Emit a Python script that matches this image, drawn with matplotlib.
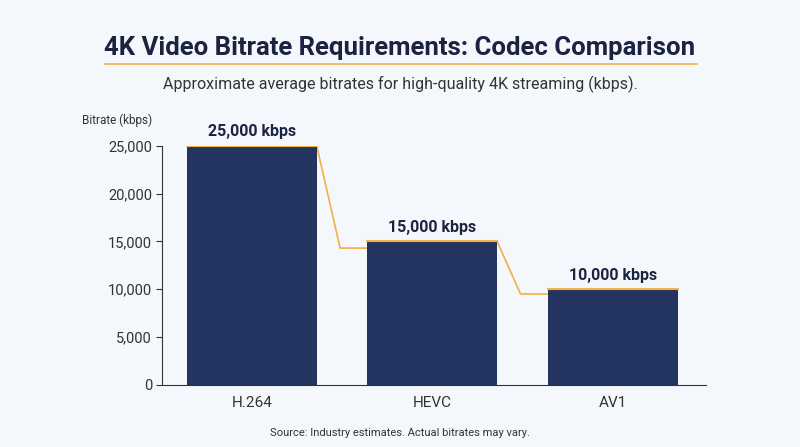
import matplotlib

matplotlib.use("Agg")
import matplotlib.pyplot as plt

CODECS = ["H.264", "HEVC", "AV1"]
BITRATES = [25000, 15000, 10000]
LABELS = ["25,000 kbps", "15,000 kbps", "10,000 kbps"]
DIP_LEVELS = [14300, 9500]  # where the orange connector settles in each gap

NAVY = "#22345f"
ORANGE = "#f2b046"
BG = "#f4f7fb"
TEXT = "#1b2340"

plt.rcParams["font.family"] = ["Roboto", "DejaVu Sans"]
fig = plt.figure(figsize=(8, 4.47), dpi=100, facecolor=BG)
ax = fig.add_axes([0.203, 0.139, 0.68, 0.535], facecolor=BG)

w = 0.72
xs = list(range(len(CODECS)))
ax.bar(xs, BITRATES, w, color=NAVY, zorder=2)
for x, v, lab in zip(xs, BITRATES, LABELS):
    ax.plot([x - w / 2, x + w / 2], [v, v], color=ORANGE, lw=1.5, zorder=3)
    ax.text(x, v + 700, lab, ha="center", va="bottom", fontsize=11.5,
            fontweight="bold", color=TEXT)
for i, dip in enumerate(DIP_LEVELS):
    r = xs[i] + w / 2
    l = xs[i + 1] - w / 2
    ax.plot([r, r + 0.13, l], [BITRATES[i], dip, dip], color=ORANGE, lw=1.2, zorder=1)

ax.set_xlim(-0.495, 2.52)
ax.set_ylim(0, 25000)
ax.set_yticks(range(0, 25001, 5000))
ax.set_yticklabels([f"{t:,}" for t in range(0, 25001, 5000)], fontsize=10.5, color="#333333")
ax.set_xticks(xs)
ax.set_xticklabels(CODECS, fontsize=11, color="#333333")
ax.tick_params(axis="x", length=0, pad=8)
ax.tick_params(axis="y", length=4, color="#333333")
for s in ("top", "right"):
    ax.spines[s].set_visible(False)
ax.spines["left"].set_color("#333333")
ax.spines["bottom"].set_color("#333333")

fig.text(0.5, 0.878, "4K Video Bitrate Requirements: Codec Comparison", ha="center",
         fontsize=18.5, fontweight="bold", color=TEXT)
fig.add_artist(plt.Line2D([0.131, 0.871], [0.857, 0.857], color=ORANGE, lw=1.2))
fig.text(0.5, 0.8, "Approximate average bitrates for high-quality 4K streaming (kbps).",
         ha="center", fontsize=11.5, color="#333333")
fig.text(0.103, 0.722, "Bitrate (kbps)", fontsize=8.5, color="#333333")
fig.text(0.5, 0.024, "Source: Industry estimates. Actual bitrates may vary.",
         ha="center", fontsize=8, color="#333333")

fig.savefig("out.png", dpi=100, facecolor=BG)
